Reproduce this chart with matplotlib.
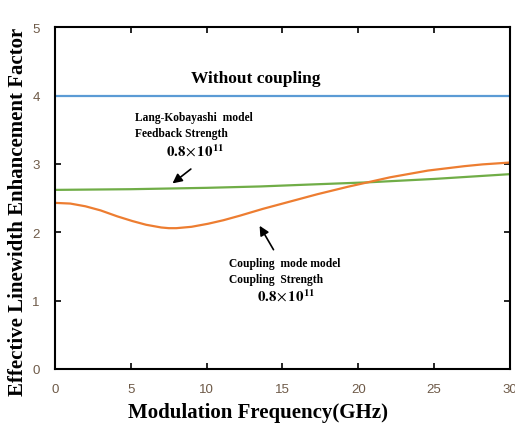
import numpy as np
import matplotlib.pyplot as plt

# modulation frequency (GHz) and linewidth enhancement factor for each model
cm_freq = [0, 1, 2, 3, 4, 5, 6, 7, 7.5, 8, 9, 10, 11, 12, 13.5, 15, 17, 19, 20.6, 22, 24.5, 26.7, 28, 30]
coupling_mode = [2.43, 2.42, 2.38, 2.32, 2.24, 2.17, 2.11, 2.07, 2.06, 2.06, 2.08, 2.12, 2.17, 2.23,
                 2.33, 2.42, 2.54, 2.65, 2.73, 2.80, 2.90, 2.96, 2.99, 3.02]
lk_freq = [0, 5, 10, 13.5, 17, 20.6, 25, 30]
lang_kobayashi = [2.62, 2.63, 2.65, 2.67, 2.70, 2.73, 2.78, 2.85]
nc_freq = [0, 30]
no_coupling = [4.0, 4.0]

serif = 'Liberation Serif'
tick_col = '#6e5a48'
plt.rcParams['mathtext.fontset'] = 'stix'

fig = plt.figure(figsize=(5.15, 4.27), dpi=100)
ax = fig.add_axes([0.107, 0.1335, 0.883, 0.8005])

ax.plot(nc_freq, no_coupling, color='#5b9bd5', lw=1.6)
ax.plot(lk_freq, lang_kobayashi, color='#70ad47', lw=1.6)
# finer sampling so the orange curve looks smooth
fs = np.linspace(0, 30, 301)
ax.plot(fs, np.interp(fs, cm_freq, coupling_mode), color='#ed7d31', lw=1.6)

ax.set_xlim(0, 30)
ax.set_ylim(0, 5)
ax.set_xticks(range(0, 31, 5))
ax.set_yticks(range(0, 6))
ax.tick_params(direction='in', top=True, right=True, length=4, width=1.2,
               labelsize=9.5, labelcolor=tick_col)
ax.tick_params(axis='x', pad=10)
ax.tick_params(axis='y', pad=11)
for lab in ax.get_xticklabels() + ax.get_yticklabels():
    lab.set_family('Liberation Sans')
for sp in ax.spines.values():
    sp.set_linewidth(1.5)

ax.set_xlabel('Modulation Frequency(GHz)', family=serif, fontweight='bold', fontsize=15, va='center')
ax.xaxis.set_label_coords(0.446, -0.125)
ax.set_ylabel('Effective Linewidth Enhancement Factor', family=serif, fontweight='bold', fontsize=15, va='center')
ax.yaxis.set_label_coords(-0.081, 0.462)

ax.text(13.25, 4.26, 'Without coupling', family=serif, fontweight='bold', fontsize=12.5,
        ha='center', va='center')

ax.text(5.3, 3.57, 'Lang-Kobayashi  model\nFeedback Strength', family=serif, fontweight='bold',
        fontsize=8.3, ha='left', va='center', linespacing=1.45)
ax.text(7.3, 3.19, r'$\mathbf{0.8}\!\times\mathbf{10^{11}}$', fontsize=10.8, ha='left', va='center')
ax.annotate('', xy=(7.6, 2.69), xytext=(9.1, 2.95),
            arrowprops=dict(arrowstyle='-|>', color='black', lw=1.2, mutation_scale=14))

ax.text(11.5, 1.44, 'Coupling  mode model\nCoupling  Strength', family=serif, fontweight='bold',
        fontsize=8.3, ha='left', va='center', linespacing=1.45)
ax.text(13.3, 1.07, r'$\mathbf{0.8}\!\times\mathbf{10^{11}}$', fontsize=10.8, ha='left', va='center')
ax.annotate('', xy=(13.4, 2.13), xytext=(14.5, 1.71),
            arrowprops=dict(arrowstyle='-|>', color='black', lw=1.2, mutation_scale=14))

fig.savefig('out.png', dpi=100)
